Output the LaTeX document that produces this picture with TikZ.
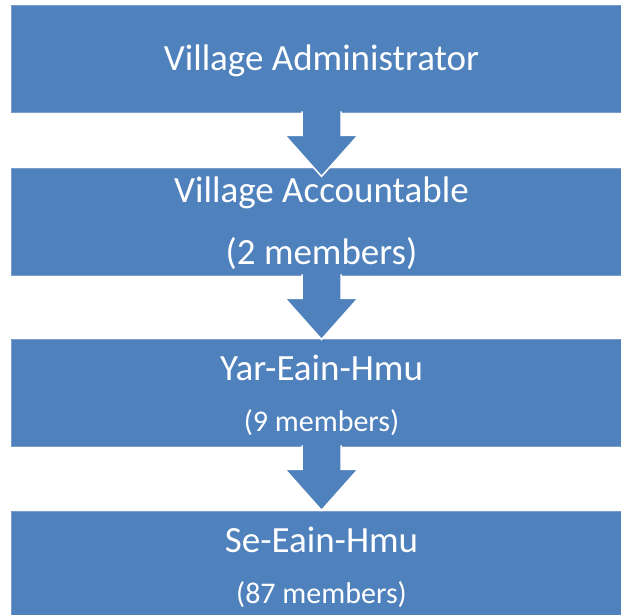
\documentclass[tikz,border=0pt]{standalone}
\usepackage{fontspec}
\setmainfont{Carlito}
\usetikzlibrary{calc}
\definecolor{offblue}{HTML}{4F81BD}
\definecolor{edgeblue}{HTML}{7A9DCC}
\tikzset{
  box/.style={rectangle, fill=offblue, draw=edgeblue, line width=0.8pt,
    minimum width=621pt, minimum height=107pt, inner sep=0pt},
  bigtext/.style={text=white, anchor=base, inner sep=0pt, font=\fontsize{37}{40}\selectfont},
  smalltext/.style={text=white, anchor=base, inner sep=0pt, font=\fontsize{30}{34}\selectfont},
  flowarrow/.style={fill=offblue, draw=white, line width=1.5pt, line join=miter},
}
\begin{document}
\begin{tikzpicture}[x=1pt,y=-1pt]
\useasboundingbox (0,0) rectangle (621,615);
\clip (0,0) rectangle (621,615);
\node[box] (b1) at (321.5,58.5) {};
\node[box] (b2) at (321.5,221.5) {};
\node[box] (b3) at (321.5,392.5) {};
\node[box] (b4) at (321.5,564.5) {};
\node[bigtext] (t1) at ($(b1.north)+(0,66)$) {Village Administrator};
\node[bigtext] (t2) at ($(b2.north)+(0,35)$) {Village Accountable};
\node[bigtext] (t2b) at ($(b2.north)+(0,97)$) {(2 members)};
\node[bigtext] (t3) at ($(b3.north)+(0,42)$) {Yar-Eain-Hmu};
\node[smalltext] (t3b) at ($(b3.north)+(0,93)$) {(9 members)};
\node[bigtext] (t4) at ($(b4.north)+(0,42)$) {Se-Eain-Hmu};
\node[smalltext] (t4b) at ($(b4.north)+(0,93)$) {(87 members)};
\foreach \a/\b in {b1/b2,b2/b3,b3/b4}{
  \draw[flowarrow] ($(\a.south)+(-19.5,-1)$) -- ($(\a.south)+(-19.5,23)$)
    -- ($(\a.south)+(-36.5,23)$) -- ($(\a.south)+(0,64)$)
    -- ($(\a.south)+(36.5,23)$) -- ($(\a.south)+(19.5,23)$)
    -- ($(\a.south)+(19.5,-1)$);
}
\end{tikzpicture}
\end{document}
